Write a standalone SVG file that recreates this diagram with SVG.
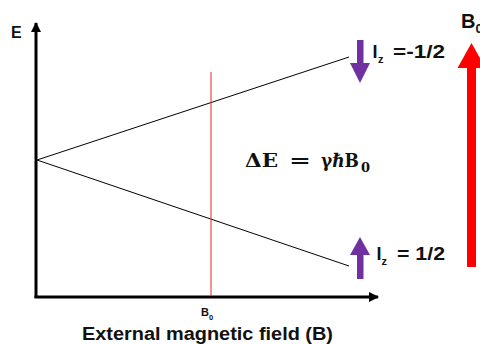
<svg xmlns="http://www.w3.org/2000/svg" width="480" height="344" viewBox="0 0 480 344">
<style>
.lbl{font-family:"Liberation Sans",Arial,sans-serif;font-weight:bold;fill:#111}
.math{font-family:"DejaVu Serif","Liberation Serif",serif;font-weight:bold;fill:#111}
.axis{stroke:#000;stroke-width:3;fill:none}
.level{stroke:#000;stroke-width:1;fill:none}
</style>
<defs>
<marker id="ah" viewBox="0 0 10 10" refX="9" refY="5" markerWidth="3.4" markerHeight="3.4" orient="auto" markerUnits="strokeWidth">
<path d="M0,0 L10,5 L0,10 Z" fill="#000"/>
</marker>
</defs>
<rect width="480" height="344" fill="#fff"/>
<g id="connectors">
<line class="axis" x1="36" y1="298" x2="36" y2="23" marker-end="url(#ah)"/>
<line class="axis" x1="34.5" y1="297" x2="378" y2="297" marker-end="url(#ah)"/>
<line class="level" x1="37" y1="160" x2="349" y2="57"/>
<line class="level" x1="37" y1="160" x2="349" y2="266"/>
<line x1="211" y1="72" x2="211" y2="296" stroke="#e02828" stroke-width="1"/>
</g>
<g id="axis-labels">
<text class="lbl" x="11" y="38" font-size="16">E</text>
<text class="lbl" x="201" y="316" font-size="11">B<tspan font-size="7.5" dy="4">0</tspan></text>
<text class="lbl" x="82" y="340" font-size="18" textLength="251" lengthAdjust="spacingAndGlyphs">External magnetic field (B)</text>
</g>
<g id="spin-down">
<rect x="357" y="40" width="6.5" height="24" fill="#7030A0"/>
<polygon points="350,63 370,63 360,83" fill="#7030A0"/>
<text class="lbl" x="372.5" y="58" font-size="18">I</text>
<text class="lbl" x="378" y="63" font-size="11">z</text>
<text class="lbl" x="393" y="58" font-size="18" textLength="52" lengthAdjust="spacingAndGlyphs">=-1/2</text>
</g>
<g id="spin-up">
<rect x="357" y="254" width="6.5" height="25" fill="#7030A0"/>
<polygon points="350,255 370,255 360,237" fill="#7030A0"/>
<text class="lbl" x="376.5" y="260" font-size="18">I</text>
<text class="lbl" x="381.5" y="265" font-size="11">z</text>
<text class="lbl" x="397" y="260" font-size="18" textLength="48" lengthAdjust="spacingAndGlyphs">= 1/2</text>
</g>
<g id="equation">
<text class="math" font-size="19"><tspan x="245" y="167" textLength="33" lengthAdjust="spacingAndGlyphs">ΔE</tspan><tspan x="289" y="167" textLength="22" lengthAdjust="spacingAndGlyphs">=</tspan><tspan x="321" y="167" textLength="38" lengthAdjust="spacingAndGlyphs">γℏB</tspan><tspan x="361" y="172" font-size="13">0</tspan></text>
</g>
<g id="field-B0">
<rect x="467" y="67" width="9" height="200" fill="#ff0000"/>
<polygon points="457.5,68 471.5,43 485.5,68" fill="#ff0000"/>
<text class="lbl" x="461" y="28" font-size="20">B<tspan font-size="13" dy="5">0</tspan></text>
</g>
</svg>
